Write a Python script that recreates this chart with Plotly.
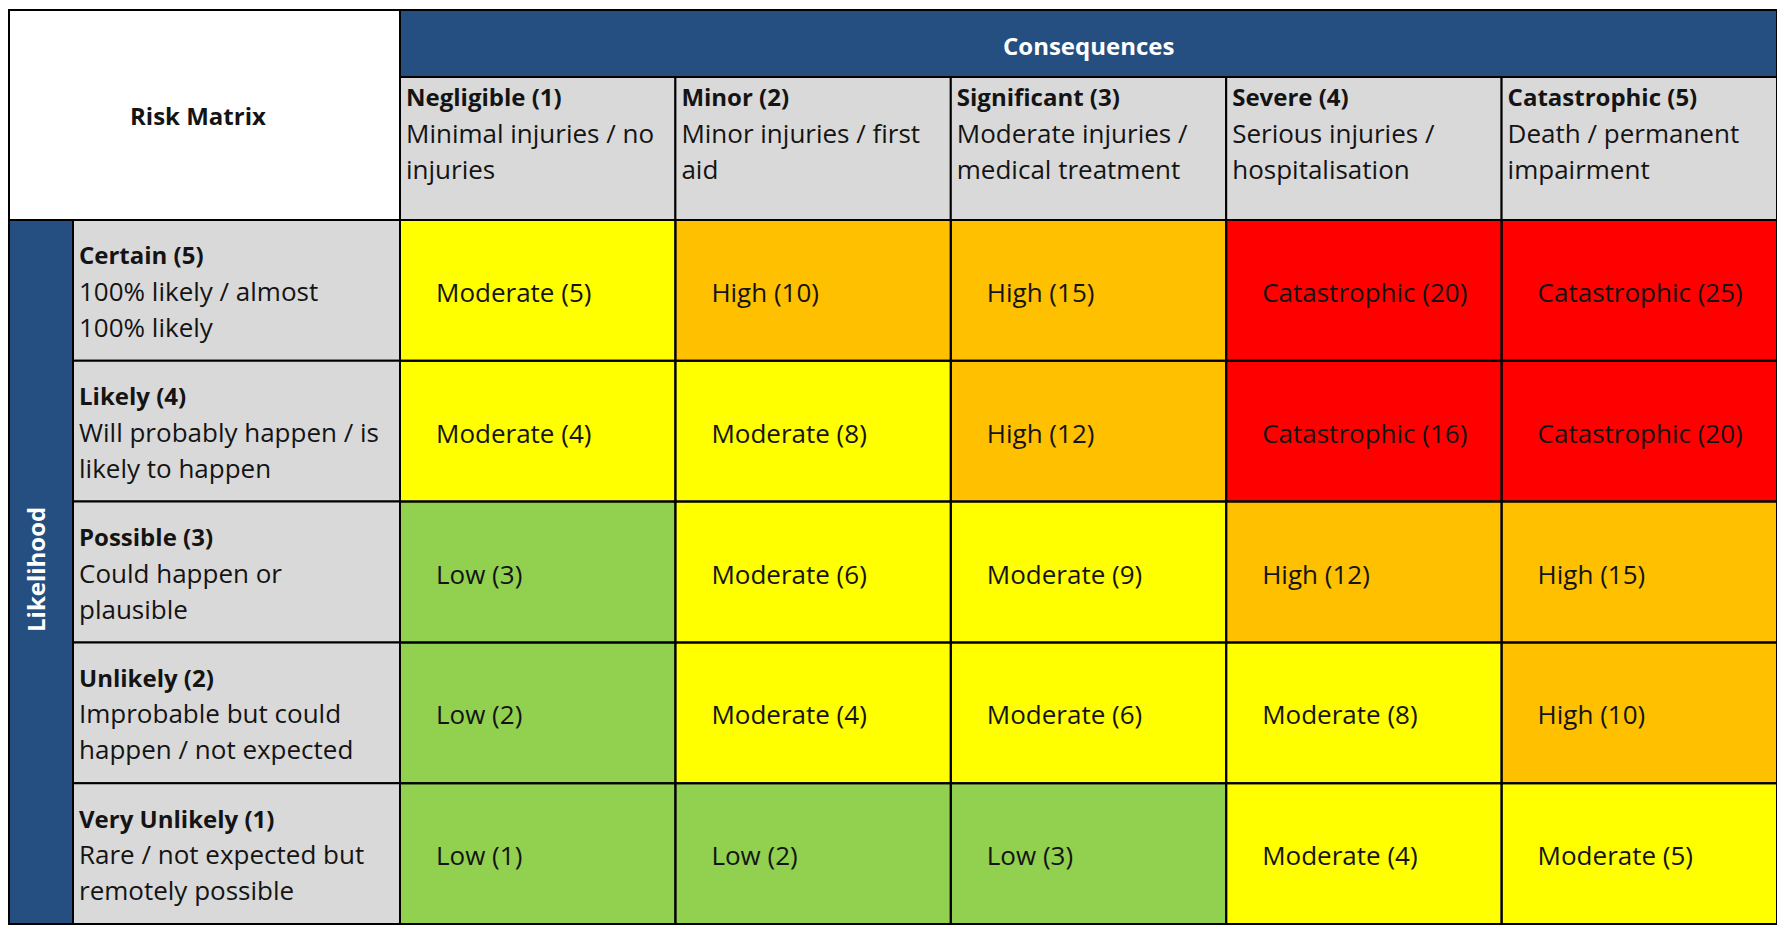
import plotly.graph_objects as go

# ---- data -----------------------------------------------------------------
consequences = ["Negligible (1)", "Minor (2)", "Significant (3)", "Severe (4)", "Catastrophic (5)"]
consequence_line1 = ["Minimal injuries / no", "Minor injuries / first", "Moderate injuries /",
                     "Serious injuries /", "Death / permanent"]
consequence_line2 = ["injuries", "aid", "medical treatment", "hospitalisation", "impairment"]

likelihoods = ["Certain (5)", "Likely (4)", "Possible (3)", "Unlikely (2)", "Very Unlikely (1)"]
likelihood_line1 = ["100% likely / almost", "Will probably happen / is", "Could happen or",
                    "Improbable but could", "Rare / not expected but"]
likelihood_line2 = ["100% likely", "likely to happen", "plausible",
                    "happen / not expected", "remotely possible"]

scores = [
    [5, 10, 15, 20, 25],
    [4, 8, 12, 16, 20],
    [3, 6, 9, 12, 15],
    [2, 4, 6, 8, 10],
    [1, 2, 3, 4, 5],
]
levels = [
    ["Moderate", "High", "High", "Catastrophic", "Catastrophic"],
    ["Moderate", "Moderate", "High", "Catastrophic", "Catastrophic"],
    ["Low", "Moderate", "Moderate", "High", "High"],
    ["Low", "Moderate", "Moderate", "Moderate", "High"],
    ["Low", "Low", "Low", "Moderate", "Moderate"],
]
level_names = ["Low", "Moderate", "High", "Catastrophic"]
level_colors = ["#92D050", "#FFFF00", "#FFC000", "#FF0000"]

# ---- layout constants (pixels of the 1785x934 page) -------------------------
W, H = 1785, 934
PAD = 8               # browser body margin around the plot div
X0, CW = 400, 275.4   # left edge of the first risk column, column width
Y0, RH = 220, 140.8   # top edge of the first risk row, row height
BLUE = "#254F81"
GREY = "#D9D9D9"
INK = "#141414"
FONT = "Open Sans"
FS = 26               # regular text
FSB = 24              # bold text
LINE = 36 / RH        # line spacing in row units


def ux(px):
    return (px - X0) / CW - 0.5


def uy(px):
    return (px - Y0) / RH - 0.5


z = [[level_names.index(v) for v in row] for row in levels]
cell_text = [[f"{levels[i][j]} ({scores[i][j]})" for j in range(5)] for i in range(5)]
n = len(level_colors)
colorscale = []
for k, c in enumerate(level_colors):
    colorscale += [[max(0, (k - 0.5) / (n - 1)), c], [min(1, (k + 0.5) / (n - 1)), c]]

fig = go.Figure()

fig.add_trace(go.Heatmap(
    z=z, x=list(range(5)), y=list(range(5)),
    zmin=0, zmax=n - 1, colorscale=colorscale, showscale=False, hoverinfo="skip"))

# risk cell labels
xs, ys, ts = [], [], []
for i in range(5):
    for j in range(5):
        xs.append(j - 0.5 + 36 / CW)
        ys.append(i + 5 / RH)
        ts.append(cell_text[i][j])
fig.add_trace(go.Scatter(x=xs, y=ys, text=ts, mode="text", textposition="middle right",
                         textfont=dict(family=FONT, size=FS, color=INK),
                         hoverinfo="skip", showlegend=False))

# consequence header texts
hx = [j - 0.5 + 6 / CW for j in range(5)]
for k, (lines, bold) in enumerate([(consequences, True), (consequence_line1, False), (consequence_line2, False)]):
    fig.add_trace(go.Scatter(
        x=hx, y=[uy(100) + k * LINE] * 5,
        text=[f"<b>{t}</b>" if bold else t for t in lines],
        mode="text", textposition="middle right",
        textfont=dict(family=FONT, size=FSB if bold else FS, color=INK),
        hoverinfo="skip", showlegend=False))

# likelihood row texts
lx = [ux(79)] * 5
for k, (lines, bold) in enumerate([(likelihoods, True), (likelihood_line1, False), (likelihood_line2, False)]):
    fig.add_trace(go.Scatter(
        x=lx, y=[i + (k - 1) * LINE + 4 / RH for i in range(5)],
        text=[f"<b>{t}</b>" if bold else t for t in lines],
        mode="text", textposition="middle right",
        textfont=dict(family=FONT, size=FSB if bold else FS, color=INK),
        hoverinfo="skip", showlegend=False))

# ---- cell shapes ------------------------------------------------------------
shapes = []
edge = dict(color="black", width=2)
# corner, blue bands
shapes.append(dict(type="rect", x0=ux(PAD + 1), x1=-0.5, y0=uy(10), y1=-0.5, fillcolor="white", line=edge, layer="below"))
shapes.append(dict(type="rect", x0=-0.5, x1=4.5, y0=uy(10), y1=uy(77), fillcolor=BLUE, line=edge, layer="below"))
shapes.append(dict(type="rect", x0=ux(PAD + 1), x1=ux(73), y0=-0.5, y1=4.5, fillcolor=BLUE, line=edge, layer="below"))
for j in range(5):
    shapes.append(dict(type="rect", x0=j - 0.5, x1=j + 0.5, y0=uy(77), y1=-0.5,
                       fillcolor=GREY, line=edge, layer="below"))
for i in range(5):
    shapes.append(dict(type="rect", x0=ux(73), x1=-0.5, y0=i - 0.5, y1=i + 0.5,
                       fillcolor=GREY, line=edge, layer="below"))
    for j in range(5):
        shapes.append(dict(type="rect", x0=j - 0.5, x1=j + 0.5, y0=i - 0.5, y1=i + 0.5,
                           line=edge, layer="above"))

annotations = [
    dict(x=ux(198), y=uy(115), text="<b>Risk Matrix</b>", showarrow=False,
         font=dict(family=FONT, size=FSB, color=INK)),
    dict(x=2, y=uy(45), text="<b>Consequences</b>", showarrow=False,
         font=dict(family=FONT, size=FSB, color="white")),
    dict(x=ux(35), y=uy(570), text="<b>Likelihood</b>", showarrow=False, textangle=-90,
         font=dict(family=FONT, size=FSB, color="white")),
]

# the plot div sits PAD px in from the page corner
fig.update_layout(
    width=W - PAD, height=H - PAD,
    margin=dict(l=0, r=0, t=0, b=0),
    paper_bgcolor="white", plot_bgcolor="white",
    shapes=shapes, annotations=annotations,
    showlegend=False,
    xaxis=dict(range=[ux(PAD), ux(W)], visible=False, fixedrange=True),
    yaxis=dict(range=[uy(H), uy(PAD)], visible=False, fixedrange=True),
)

fig.write_html("out.html")
